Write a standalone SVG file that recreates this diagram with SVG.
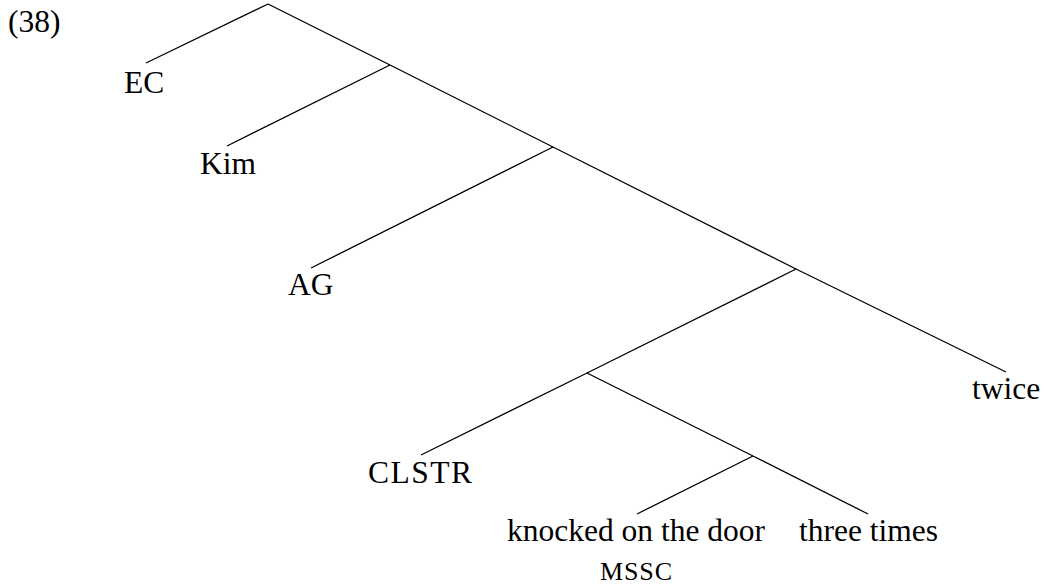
<svg xmlns="http://www.w3.org/2000/svg" width="1044" height="584" viewBox="0 0 1044 584">
<style>
  text { font-family: 'Liberation Serif', Tinos, 'Times New Roman', 'DejaVu Serif', serif; fill: #000; }
  .t { font-size: 31.5px; }
  .sc { font-size: 26px; }
  .e { stroke: #000; stroke-width: 1.3; fill: none; stroke-linecap: butt; }
</style>
<rect width="1044" height="584" fill="#fff"/>
<text class="t" x="8" y="32">(38)</text>
<g id="connectors">
  <line class="e" x1="268" y1="4" x2="146" y2="63"/>
  <line class="e" x1="268" y1="4" x2="390" y2="65"/>
  <line class="e" x1="390" y1="65" x2="227" y2="146"/>
  <line class="e" x1="390" y1="65" x2="553" y2="147"/>
  <line class="e" x1="553" y1="147" x2="311" y2="268"/>
  <line class="e" x1="553" y1="147" x2="796" y2="269"/>
  <line class="e" x1="796" y1="269" x2="587" y2="373"/>
  <line class="e" x1="796" y1="269" x2="1006" y2="372"/>
  <line class="e" x1="587" y1="373" x2="421" y2="455"/>
  <line class="e" x1="587" y1="373" x2="753" y2="456"/>
  <line class="e" x1="753" y1="456" x2="637" y2="514"/>
  <line class="e" x1="753" y1="456" x2="868" y2="514"/>
</g>
<g id="node-ec"><text class="t" x="124" y="93">EC</text></g>
<g id="node-kim"><text class="t" x="200" y="174">Kim</text></g>
<g id="node-ag"><text class="t" x="288" y="295">AG</text></g>
<g id="node-clstr"><text class="t" x="368" y="483" textLength="104" lengthAdjust="spacing">CLSTR</text></g>
<g id="node-twice"><text class="t" x="972" y="399">twice</text></g>
<g id="node-knocked"><text class="t" x="507" y="541">knocked on the door</text>
  <text class="sc" x="600" y="580" textLength="72" lengthAdjust="spacing">MSSC</text></g>
<g id="node-three"><text class="t" x="799" y="541">three times</text></g>
</svg>
